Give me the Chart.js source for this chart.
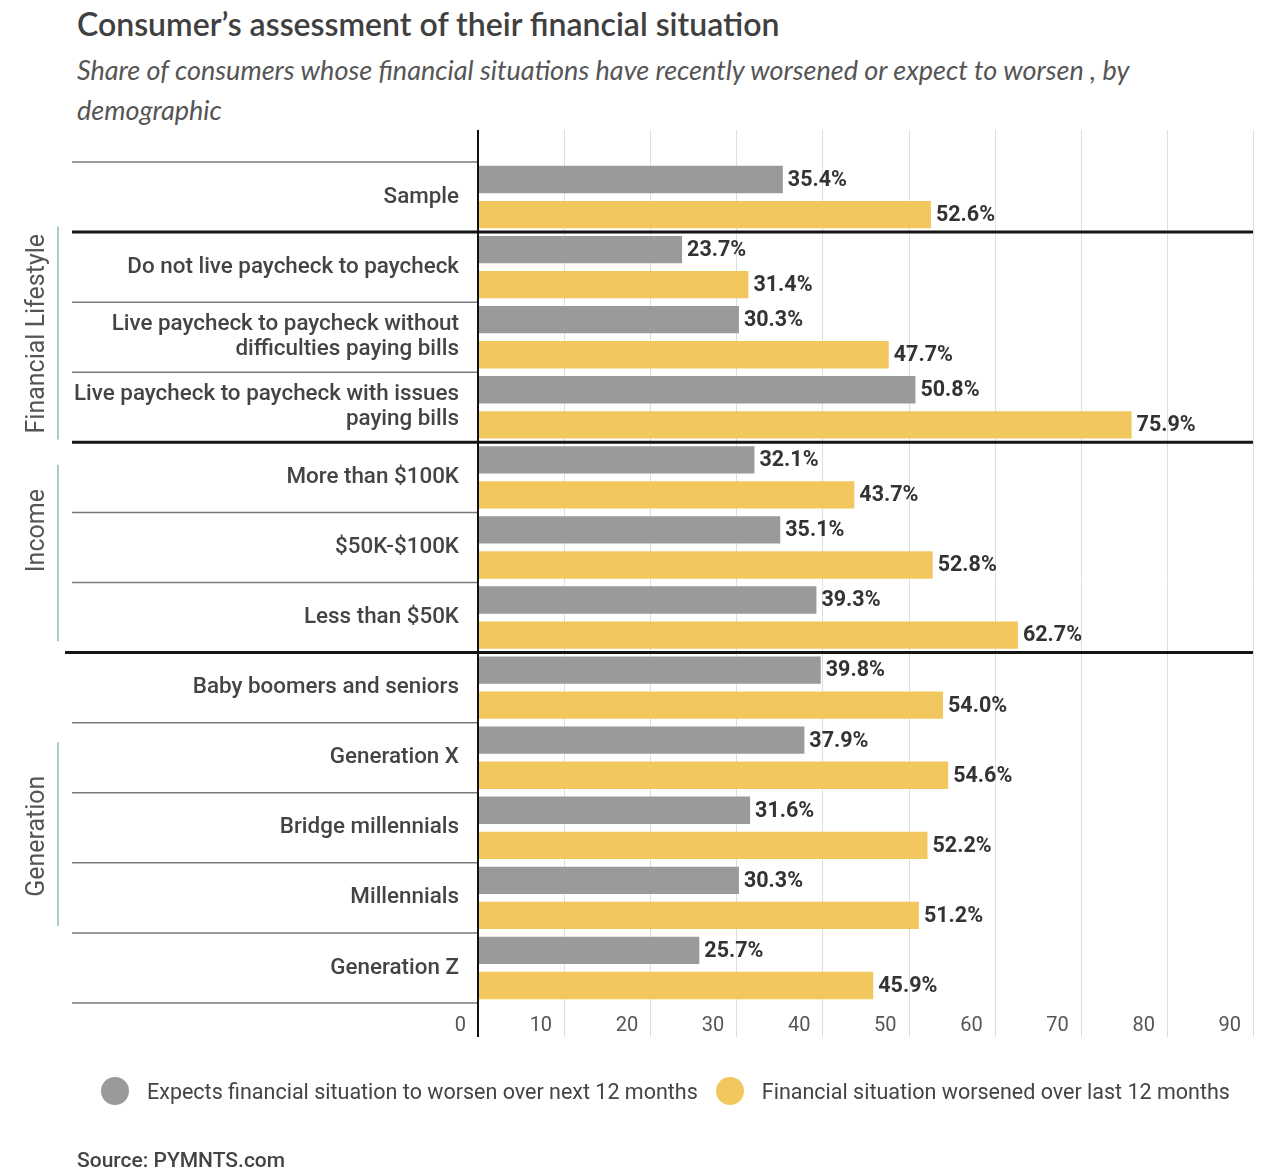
<!DOCTYPE html>
<html>
<head>
<meta charset="utf-8">
<title>Consumer's assessment of their financial situation</title>
<script src="https://cdn.jsdelivr.net/npm/chart.js@4/dist/chart.umd.min.js"></script>
<style>
    body { margin: 0; background: #fff; }
    #wrap { position: relative; width: 1264px; height: 1172px; overflow: hidden; background: #fff; }
    #chart { position: absolute; left: 0; top: 0; }
    .title { position: absolute; left: 77px; top: 4px; font: 600 32px Lato, sans-serif; color: #404040; white-space: nowrap; }
    .subtitle { position: absolute; left: 77px; top: 50px; width: 1100px; font: italic 400 27px/40px Lato, sans-serif; color: #555; }
    .legend { position: absolute; left: 101px; top: 1077px; display: flex; align-items: center; font: 400 21.5px Roboto, sans-serif; color: #444; white-space: nowrap; }
    .legend .dot { width: 28px; height: 28px; border-radius: 50%; margin-right: 18px; }
    .legend .item { display: flex; align-items: center; margin-right: 18px; }
    .source { position: absolute; left: 77px; top: 1148px; font: 500 21px Roboto, sans-serif; color: #444; }
</style>
</head>
<body>
<div id="wrap">
    <div class="title">Consumer’s assessment of their financial situation</div>
    <div class="subtitle">Share of consumers whose financial situations have recently worsened or expect to worsen , by demographic</div>
    <canvas id="chart" width="1264" height="1172"></canvas>
    <div class="legend" id="legend"></div>
    <div class="source">Source: PYMNTS.com</div>
</div>
<script>
const categories = [
    'Sample',
    'Do not live paycheck to paycheck',
    ['Live paycheck to paycheck without', 'difficulties paying bills'],
    ['Live paycheck to paycheck with issues', 'paying bills'],
    'More than $100K',
    '$50K-$100K',
    'Less than $50K',
    'Baby boomers and seniors',
    'Generation X',
    'Bridge millennials',
    'Millennials',
    'Generation Z',
];
const seriesNames = [
    'Expects financial situation to worsen over next 12 months',
    'Financial situation worsened over last 12 months',
];
const expectWorsen = [35.4, 23.7, 30.3, 50.8, 32.1, 35.1, 39.3, 39.8, 37.9, 31.6, 30.3, 25.7];
const worsened = [52.6, 31.4, 47.7, 75.9, 43.7, 52.8, 62.7, 54.0, 54.6, 52.2, 51.2, 45.9];
const xTicks = [0, 10, 20, 30, 40, 50, 60, 70, 80, 90];
// rows after which a section ends
const sectionBreaks = [0, 3, 6];
// side labels, spans given in category units
const groups = [
    { name: 'Financial Lifestyle', top: 0.42, bottom: 3.46, mid: 1.95 },
    { name: 'Income', top: 3.82, bottom: 6.34, mid: 4.76 },
    { name: 'Generation', top: 7.78, bottom: 10.4, mid: 9.12 },
];

const colors = ['#9a9a9a', '#f2c75e'];
const AXIS_TOP = 130;
const AXIS_BOTTOM = 1037;
const LABEL_LEFT = 72;

const frame = {
    id: 'frame',
    beforeDatasetsDraw(chart) {
        const { ctx, chartArea, scales: { x, y } } = chart;
        ctx.save();
        // vertical grid lines
        ctx.strokeStyle = '#dedede';
        ctx.lineWidth = 1;
        xTicks.slice(1).forEach((t) => {
            const px = Math.round(x.getPixelForValue(t)) + 0.5;
            ctx.beginPath();
            ctx.moveTo(px, AXIS_TOP);
            ctx.lineTo(px, AXIS_BOTTOM);
            ctx.stroke();
        });
        // row separators in the label column
        for (let i = -1; i < categories.length; i++) {
            if (sectionBreaks.includes(i)) continue;
            const py = y.getPixelForValue(i + 0.5);
            ctx.strokeStyle = '#7a7a7a';
            ctx.lineWidth = 1.5;
            ctx.beginPath();
            ctx.moveTo(LABEL_LEFT, py);
            ctx.lineTo(chartArea.left, py);
            ctx.stroke();
        }
        // section rules across the whole chart
        sectionBreaks.forEach((i, n) => {
            const py = y.getPixelForValue(i + 0.5);
            ctx.strokeStyle = '#151515';
            ctx.lineWidth = 3;
            ctx.beginPath();
            ctx.moveTo(n === 2 ? 65 : LABEL_LEFT, py);
            ctx.lineTo(chartArea.right, py);
            ctx.stroke();
        });
        // group labels on the far left
        groups.forEach((g) => {
            ctx.strokeStyle = '#a7cfc6';
            ctx.lineWidth = 2;
            ctx.beginPath();
            ctx.moveTo(58, y.getPixelForValue(g.top));
            ctx.lineTo(58, y.getPixelForValue(g.bottom));
            ctx.stroke();
            ctx.save();
            ctx.translate(38, y.getPixelForValue(g.mid));
            ctx.rotate(-Math.PI / 2);
            ctx.fillStyle = '#555';
            ctx.font = '400 25px Roboto';
            ctx.textAlign = 'center';
            ctx.textBaseline = 'middle';
            ctx.fillText(g.name, 0, 0);
            ctx.restore();
        });
        ctx.restore();
    },
    afterDatasetsDraw(chart) {
        const { ctx, chartArea } = chart;
        ctx.save();
        // value labels
        ctx.font = '700 21.5px Roboto';
        ctx.fillStyle = '#333';
        ctx.textBaseline = 'middle';
        chart.data.datasets.forEach((ds, di) => {
            chart.getDatasetMeta(di).data.forEach((bar, i) => {
                ctx.fillText(ds.data[i].toFixed(1) + '%', bar.x + 5, bar.y + 1);
            });
        });
        // value axis line
        ctx.strokeStyle = '#111';
        ctx.lineWidth = 2;
        ctx.beginPath();
        ctx.moveTo(chartArea.left, AXIS_TOP);
        ctx.lineTo(chartArea.left, AXIS_BOTTOM);
        ctx.stroke();
        ctx.restore();
    },
};

new Chart(document.getElementById('chart'), {
    type: 'bar',
    data: {
        labels: categories,
        datasets: [
            { label: seriesNames[0], data: expectWorsen, backgroundColor: colors[0] },
            { label: seriesNames[1], data: worsened, backgroundColor: colors[1] },
        ],
    },
    options: {
        indexAxis: 'y',
        responsive: false,
        animation: false,
        categoryPercentage: 1.0,
        barPercentage: 0.78,
        layout: { padding: { left: 0, right: 11, top: 162, bottom: 129 } },
        scales: {
            x: {
                min: 0,
                max: 90,
                afterBuildTicks: (scale) => { scale.ticks = xTicks.map((v) => ({ value: v })); },
                afterFit: (scale) => { scale.height = 40; },
                grid: { display: false },
                border: { display: false },
                ticks: {
                    align: 'end',
                    labelOffset: -12,
                    padding: 3,
                    color: '#555',
                    font: { family: 'Roboto', size: 20 },
                },
            },
            y: {
                afterFit: (scale) => { scale.width = 478; },
                grid: { display: false, drawTicks: false },
                border: { display: false },
                ticks: {
                    padding: 19,
                    color: '#444',
                    font: { family: 'Roboto', size: 22.4, weight: 500, lineHeight: 1.12 },
                },
            },
        },
        plugins: {
            legend: { display: false },
            tooltip: { enabled: false },
        },
    },
    plugins: [frame],
});

const legend = document.getElementById('legend');
seriesNames.forEach((name, i) => {
    const item = document.createElement('div');
    item.className = 'item';
    item.innerHTML = `<span class="dot" style="background:${colors[i]}"></span><span>${name}</span>`;
    legend.appendChild(item);
});
</script>
</body>
</html>
